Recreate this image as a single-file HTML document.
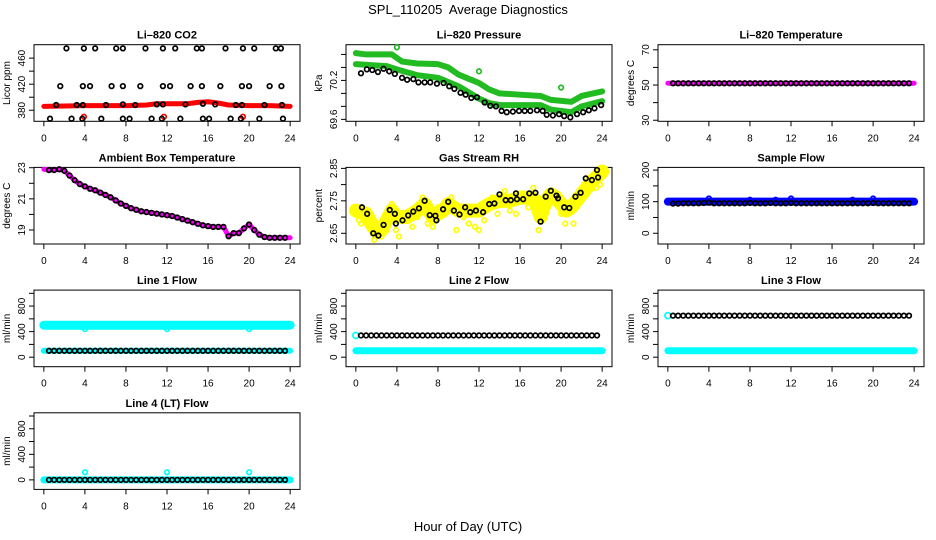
<!DOCTYPE html>
<html><head><meta charset="utf-8"><title>SPL_110205 Average Diagnostics</title>
<style>
html,body{margin:0;padding:0;background:#fff;}
svg{display:block;font-family:"Liberation Sans",Arial,sans-serif;}
</style></head>
<body>
<svg id="chart" width="936" height="540" viewBox="0 0 936 540" xmlns="http://www.w3.org/2000/svg">
<text x="468" y="14" text-anchor="middle" font-size="13" xml:space="preserve">SPL_110205  Average Diagnostics</text>
<text x="468" y="531" text-anchor="middle" font-size="13">Hour of Day (UTC)</text>
</svg>
<script>
// ---- shared data ----
const xTicks = [0,4,8,12,16,20,24];
const blackHrs = [0.5,1,1.5,2,2.5,3,3.5,4,4.5,5,5.5,6,6.5,7,7.5,8,8.5,9,9.5,10,10.5,11,11.5,12,12.5,13,13.5,14,14.5,15,15.5,16,16.5,17,17.5,18,18.5,19,19.5,20,20.5,21,21.5,22,22.5,23,23.5];

// CO2
const co2TopHrs = [2.2,3.9,5.0,7.05,7.7,9.9,11.6,12.8,14.9,15.4,17.7,19.4,20.5,22.6,23.1];
const co2TopVals = [475,475,475,475,475,475,475,475,475,475,475,475,475,475,475];
const co2MidHrs = [1.6,3.8,4.5,6.6,7.7,9.4,11.6,12.3,14.3,15.4,17.2,19.3,20.0,22.0,23.15];
const co2MidVals = [417,417,417,417,417,417,417,417,417,417,417,417,417,417,417];
const co2LowHrs = [1.2,3.2,3.8,6.05,7.7,8.9,11.0,11.6,13.8,15.5,16.7,18.7,19.3,21.5,23.2];
const co2LowVals = [388,388,388,388,389,388,389,389,389,390,389,388,388,388,388];
const co2BotHrs = [0.6,2.7,3.75,5.6,7.7,8.35,10.5,11.5,13.3,15.5,16.1,18.2,19.2,21.0,23.3];
const co2BotVals = [367,367,367,367,367,367,367,367,367,367,367,367,367,367,367];
const co2RedHrs = [0,2,4,6,8,10,11,12,14,15,16,17,18,20,22,24];
const co2RedVals = [386,386.5,387,387,387,388,390,390,390,392,393,391,388,387,387,386];
const co2RedOutHrs = [3.9,11.7,19.4];
const co2RedOutVals = [370,370,370];

// Pressure
const presUpHrs = [0,1,3.5,4.5,6,8,9,10,12,13,14,16,18,19,21,22,24];
const presUpVals = [70.62,70.6,70.6,70.49,70.46,70.45,70.4,70.29,70.16,70.06,70.0,69.98,69.96,69.9,69.87,69.96,70.03];
const presLoHrs = [0,3,4,6,8,10,12,13,14,16,18,19,21,22,24];
const presLoVals = [70.45,70.42,70.37,70.28,70.24,70.11,69.92,69.85,69.82,69.82,69.82,69.75,69.71,69.8,69.88];
const presBlkHrs = [0.5,1.07,1.6,2.15,2.7,3.25,3.8,4.5,5.0,5.6,6.1,6.7,7.25,7.9,8.55,9.1,9.6,10.2,10.7,11.25,11.8,12.55,13.1,13.65,14.2,14.7,15.3,15.9,16.45,17,17.65,18.2,18.6,19.2,19.8,20.3,20.9,21.55,22.15,22.7,23.25,23.9];
const presBlkVals = [70.31,70.37,70.36,70.33,70.38,70.34,70.3,70.24,70.21,70.22,70.17,70.17,70.17,70.15,70.16,70.11,70.07,70.01,69.98,69.93,69.94,69.86,69.81,69.8,69.73,69.71,69.72,69.73,69.73,69.73,69.74,69.73,69.67,69.66,69.68,69.65,69.63,69.68,69.71,69.74,69.77,69.82];
const presOutHrs = [4,12,20];
const presOutVals = [70.71,70.34,70.09];

// Li-820 temperature
const tempBandHrs = [0,24];
const tempBandVals = [51,51];
const tempBlkVals = [51,51,51,51,51,51,51,51,51,51,51,51,51,51,51,51,51,51,51,51,51,51,51,51,51,51,51,51,51,51,51,51,51,51,51,51,51,51,51,51,51,51,51,51,51,51,51];

// Ambient box temperature
const ambHrs = [0,0.5,1,1.5,2,2.5,3,3.5,4,4.5,5,5.5,6,6.5,7,7.5,8,8.5,9,9.5,10,10.5,11,11.5,12,12.5,13,13.5,14,14.5,15,15.5,16,16.5,17,17.5,18,18.5,19,19.5,20,20.5,21,21.5,22,22.5,23,23.5,24];
const ambVals = [22.9,22.85,22.85,22.9,22.8,22.5,22.2,21.95,21.8,21.65,21.55,21.4,21.25,21.1,20.9,20.7,20.55,20.4,20.3,20.2,20.15,20.1,20.05,20.0,19.95,19.9,19.8,19.7,19.6,19.5,19.4,19.3,19.25,19.2,19.2,19.2,18.6,18.8,18.8,19.1,19.35,19.0,18.7,18.55,18.5,18.5,18.5,18.5,18.5];

// Gas stream RH
const rhBandHrs = [0,1,1.5,2,2.5,3,3.5,4,5,6,6.7,7.5,8.5,9,10,11,12,13,14,15,16,17,17.5,18,18.5,19,19.5,20,20.5,21,22,23,24];
const rhBandVals = [2.72,2.71,2.68,2.655,2.66,2.69,2.72,2.70,2.70,2.72,2.74,2.70,2.72,2.74,2.72,2.72,2.72,2.74,2.75,2.75,2.76,2.76,2.75,2.70,2.75,2.77,2.76,2.74,2.72,2.73,2.77,2.81,2.84];
const rhYelHrs = [0.2,0.3,0.5,1.0,1.5,1.8,2.0,2.5,3.0,3.5,3.9,4.2,4.6,5.5,6.0,6.5,7.0,7.5,8.0,8.6,9.3,9.8,10.5,11.0,11.6,12.0,12.5,13.3,13.8,14.5,15.0,15.6,16.1,16.8,17.3,17.8,18.1,18.9,19.5,20.0,20.4,21.2,21.7,22.2,22.8,23.4,23.8];
const rhYelVals = [2.73,2.69,2.68,2.72,2.67,2.63,2.66,2.64,2.66,2.74,2.66,2.64,2.71,2.67,2.70,2.76,2.68,2.67,2.73,2.72,2.76,2.66,2.70,2.68,2.67,2.66,2.69,2.76,2.71,2.78,2.72,2.71,2.76,2.73,2.79,2.66,2.70,2.74,2.77,2.71,2.68,2.68,2.75,2.78,2.80,2.79,2.80];
const rhBlkHrs = [0.6,1.1,1.7,2.2,2.7,3.3,3.8,3.9,4.55,5.1,5.6,6.15,6.7,7.2,7.75,7.85,8.5,9.0,9.55,10.1,10.65,11.15,11.7,12.4,13.0,13.5,14.0,14.6,15.1,15.6,15.7,16.3,16.9,17.5,18.0,18.5,19.0,19.55,19.7,20.3,20.8,21.4,21.9,22.4,23.0,23.5,23.6];
const rhBlkVals = [2.73,2.71,2.65,2.643,2.676,2.722,2.71,2.68,2.69,2.705,2.717,2.727,2.75,2.706,2.704,2.69,2.724,2.747,2.72,2.708,2.73,2.715,2.72,2.715,2.74,2.742,2.77,2.752,2.752,2.773,2.755,2.755,2.773,2.775,2.686,2.763,2.781,2.766,2.758,2.73,2.728,2.763,2.775,2.819,2.814,2.845,2.822];

// Sample flow
const sfBandHrs = [0,24];
const sfBandVals = [100,100];
const sfBlkVals = [94,94,95,95,95,95,96,97,95,95,95,95,95,95,95,96,95,95,95,96,95,95,95,96,95,95,95,95,95,95,95,95,95,95,95,95,95,95,95,96,95,95,95,95,95,95,95];
const sfOutHrs = [4,8,10.5,12,18,20];
const sfOutVals = [110,106,106,110,106,110];

// Line flows
const l1BandHrs = [0,24];
const l1BandVals = [500,500];
const l1LowBandVals = [100,100];
const l1BlkVals = [100,100,100,100,100,100,100,100,100,100,100,100,100,100,100,100,100,100,100,100,100,100,100,100,100,100,100,100,100,100,100,100,100,100,100,100,100,100,100,100,100,100,100,100,100,100,100];
const l1OutHrs = [4,12,20];
const l1OutVals = [440,440,440];

const l2BandVals = [100,100];
const l2BlkVals = [340,340,340,340,340,340,340,340,340,340,340,340,340,340,340,340,340,340,340,340,340,340,340,340,340,340,340,340,340,340,340,340,340,340,340,340,340,340,340,340,340,340,340,340,340,340,340];
const l2StartHrs = [0];
const l2StartVals = [340];

const l3BandVals = [100,100];
const l3BlkVals = [650,650,650,650,650,650,650,650,650,650,650,650,650,650,650,650,650,650,650,650,650,650,650,650,650,650,650,650,650,650,650,650,650,650,650,650,650,650,650,650,650,650,650,650,650,650,650];
const l3StartHrs = [0];
const l3StartVals = [650];

const l4BandVals = [0,0];
const l4BlkVals = [0,0,0,0,0,0,0,0,0,0,0,0,0,0,0,0,0,0,0,0,0,0,0,0,0,0,0,0,0,0,0,0,0,0,0,0,0,0,0,0,0,0,0,0,0,0,0];
const l4OutHrs = [4,12,20];
const l4OutVals = [120,120,120];

// ---- drawing ----
const svg = document.getElementById('chart');
const NS = 'http://www.w3.org/2000/svg';
function mk(tag, attrs, parent){
  const e = document.createElementNS(NS, tag);
  for (const k in attrs) e.setAttribute(k, attrs[k]);
  (parent || svg).appendChild(e);
  return e;
}

function panel(col, row, key, title, ylab, ydom, yTicks, yLabels){
  const L = 34 + 312*col, W = 266, T = 44.7 + 122.7*row, H = 76.6;
  const g = mk('g', {});
  
  
  const xs = h => L + (h + 0.96) / 25.92 * W;
  const ys = v => T + H - (v - ydom[0]) / (ydom[1] - ydom[0]) * H;
  const t = mk('text', {x: L + W/2, y: T - 6, 'text-anchor': 'middle', 'font-size': 11, 'font-weight': 'bold'}, g);
  t.textContent = title;
  
  
  const yl = mk('text', {x: 0, y: 0, 'text-anchor': 'middle', 'font-size': 10, transform: `translate(${L-24},${T+H/2}) rotate(-90)`}, g);
  yl.textContent = ylab;
  
  
  const box = mk('rect', {x: L, y: T, width: W, height: H, fill: 'none', stroke: '#000', 'stroke-width': 1}, g);
  
  
  xTicks.forEach(h => {
    const x = xs(h);
    const tk = mk('line', {x1: x, x2: x, y1: T+H, y2: T+H+5, stroke: '#000'}, g);
    
    
    const lb = mk('text', {x: x, y: T+H+20, 'text-anchor': 'middle', 'font-size': 10}, g);
    lb.textContent = h;
    
    
  });
  yTicks.forEach(v => {
    const y = ys(v);
    const tk = mk('line', {x1: L-5, x2: L, y1: y, y2: y, stroke: '#000'}, g);
    
    
  });
  yLabels.forEach(v => {
    const y = ys(parseFloat(v));
    const lb = mk('text', {x: 0, y: 0, 'text-anchor': 'middle', 'font-size': 10, transform: `translate(${L-9},${y}) rotate(-90)`}, g);
    lb.textContent = v;
    
    
  });
  const clip = mk('g', {}, g);
  return {
    band(hrs, vals, color, w, name){
      const p = mk('polyline', {points: hrs.map((h,i) => xs(h)+','+ys(vals[i])).join(' '), fill: 'none', stroke: color, 'stroke-width': w, 'stroke-linejoin': 'round', 'stroke-linecap': 'round'}, clip);
      
      
    },
    pts(hrs, vals, color, name, r){
      hrs.forEach((h,i) => {
        const c = mk('circle', {cx: xs(h), cy: ys(vals[i]), r: r || 2.3, fill: 'none', stroke: color, 'stroke-width': 1.7}, clip);
        
        
      });
    }
  };
}

let p;
p = panel(0,0,'co2','Li\u2013820 CO2','Licor ppm',[363,480.6],[380,400,420,440,460],['380','420','460']);
p.band(co2RedHrs, co2RedVals, '#ff0000', 5, 'co2-red-series');
p.pts(co2RedOutHrs, co2RedOutVals, '#ff0000', 'co2-red-point');
p.pts(co2TopHrs, co2TopVals, '#000', 'co2-black-point');
p.pts(co2MidHrs, co2MidVals, '#000', 'co2-black-point');
p.pts(co2LowHrs, co2LowVals, '#000', 'co2-black-point');
p.pts(co2BotHrs, co2BotVals, '#000', 'co2-black-point');

p = panel(1,0,'pressure','Li\u2013820 Pressure','kPa',[69.57,70.75],[69.6,69.8,70.0,70.2,70.4,70.6],['69.6','70.2']);
p.band(presUpHrs, presUpVals, '#22bb22', 6, 'pressure-green-upper-series');
p.band(presLoHrs, presLoVals, '#22bb22', 6, 'pressure-green-lower-series');
p.pts(presOutHrs, presOutVals, '#22bb22', 'pressure-green-point');
p.pts(presBlkHrs, presBlkVals, '#000', 'pressure-black-point');

p = panel(2,0,'li820-temp','Li\u2013820 Temperature','degrees C',[29.4,72.9],[30,40,50,60,70],['30','50','70']);
p.band(tempBandHrs, tempBandVals, '#ff00ff', 5, 'li820-temp-magenta-series');
p.pts(blackHrs, tempBlkVals, '#000', 'li820-temp-black-point');

p = panel(0,1,'ambient','Ambient Box Temperature','degrees C',[18.1,23.02],[19,20,21,22,23],['19','21','23']);
p.band(ambHrs, ambVals, '#ff00ff', 5, 'ambient-magenta-series');
p.pts(ambHrs.slice(1,48), ambVals.slice(1,48), '#000', 'ambient-black-point');

p = panel(1,1,'rh','Gas Stream RH','percent',[2.617,2.853],[2.65,2.70,2.75,2.80,2.85],['2.65','2.75','2.85']);
p.band(rhBandHrs, rhBandVals, '#ffff00', 14, 'rh-yellow-series');
p.pts(rhYelHrs, rhYelVals, '#ffff00', 'rh-yellow-point');
p.pts(rhBlkHrs, rhBlkVals, '#000', 'rh-black-point');

p = panel(2,1,'sample-flow','Sample Flow','ml/min',[-34,208.5],[0,50,100,150,200],['0','100','200']);
p.band(sfBandHrs, sfBandVals, '#0000ff', 8, 'sample-flow-blue-series');
p.pts(sfOutHrs, sfOutVals, '#0000ff', 'sample-flow-blue-point');
p.pts(blackHrs, sfBlkVals, '#000', 'sample-flow-black-point');

const flowDom = [-149,1050], flowTicks = [0,200,400,600,800,1000], flowLabels = ['0','400','800'];
p = panel(0,2,'line1-flow','Line 1 Flow','ml/min',flowDom,flowTicks,flowLabels);
p.band(l1BandHrs, l1BandVals, '#00ffff', 9, 'line1-cyan-series');
p.band(l1BandHrs, l1LowBandVals, '#00ffff', 6, 'line1-cyan-low-series');
p.pts(l1OutHrs, l1OutVals, '#00ffff', 'line1-cyan-point');
p.pts(blackHrs, l1BlkVals, '#000', 'line1-black-point');

p = panel(1,2,'line2-flow','Line 2 Flow','ml/min',flowDom,flowTicks,flowLabels);
p.band(l1BandHrs, l2BandVals, '#00ffff', 7, 'line2-cyan-series');
p.pts(l2StartHrs, l2StartVals, '#00ffff', 'line2-cyan-point', 3);
p.pts(blackHrs, l2BlkVals, '#000', 'line2-black-point');

p = panel(2,2,'line3-flow','Line 3 Flow','ml/min',flowDom,flowTicks,flowLabels);
p.band(l1BandHrs, l3BandVals, '#00ffff', 7, 'line3-cyan-series');
p.pts(l3StartHrs, l3StartVals, '#00ffff', 'line3-cyan-point', 3);
p.pts(blackHrs, l3BlkVals, '#000', 'line3-black-point');

p = panel(0,3,'line4-flow','Line 4 (LT) Flow','ml/min',flowDom,flowTicks,flowLabels);
p.band(l1BandHrs, l4BandVals, '#00ffff', 7, 'line4-cyan-series');
p.pts(l4OutHrs, l4OutVals, '#00ffff', 'line4-cyan-point');
p.pts(blackHrs, l4BlkVals, '#000', 'line4-black-point');
</script>
</body></html>
